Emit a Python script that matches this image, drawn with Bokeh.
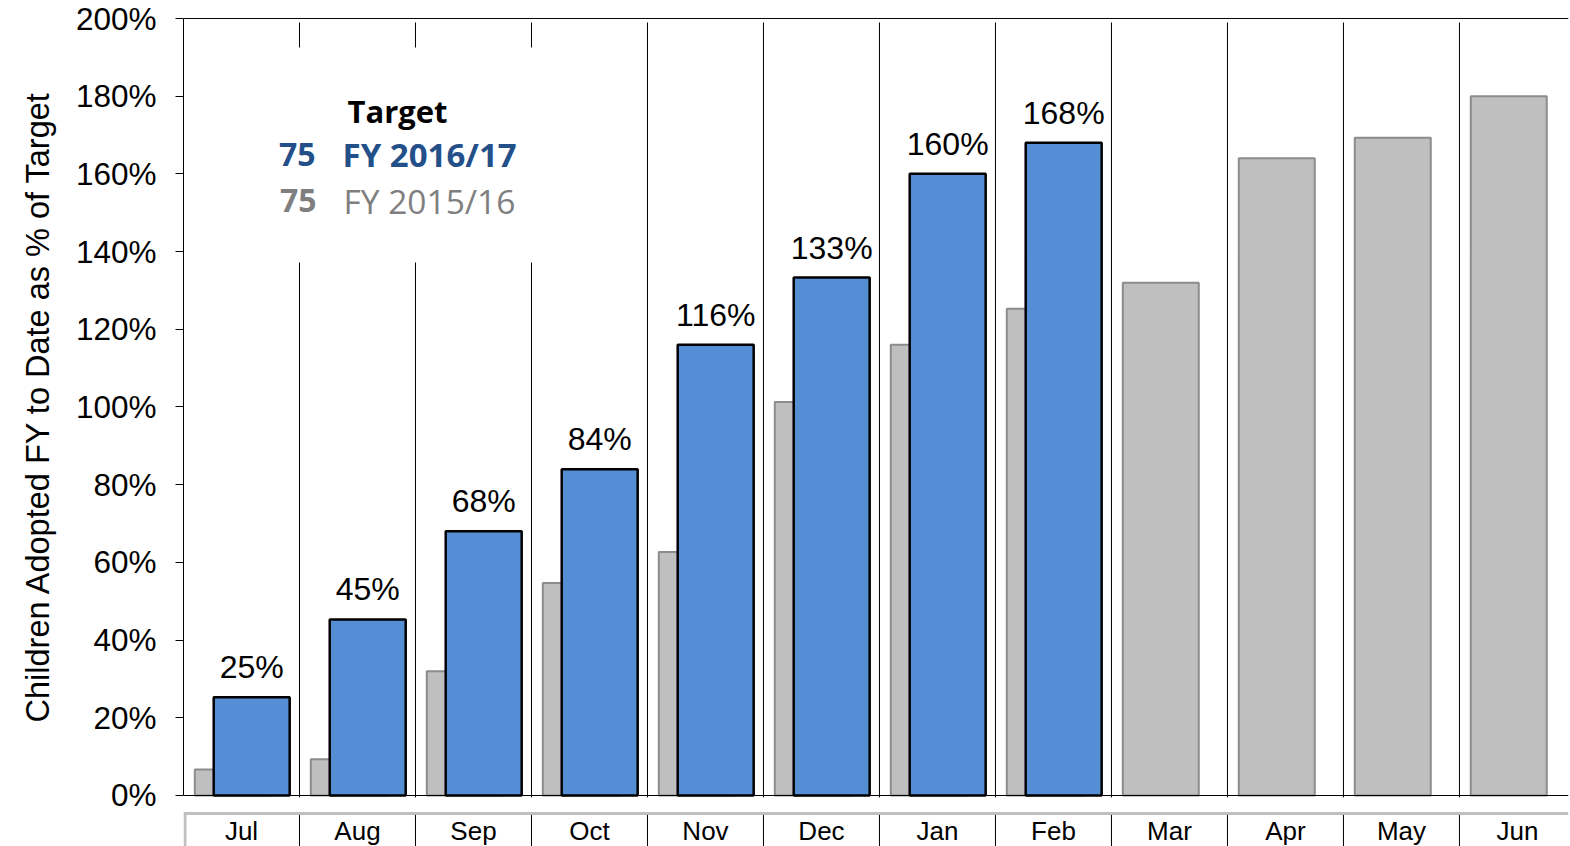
import numpy as np
from bokeh.plotting import figure
from bokeh.models import Range1d, FixedTicker, PrintfTickFormatter, Span, LinearAxis, Title
from bokeh.core.properties import value
from bokeh.embed import file_html
from bokeh.resources import INLINE

# ---- data ----
months = ["Jul", "Aug", "Sep", "Oct", "Nov", "Dec", "Jan", "Feb", "Mar", "Apr", "May", "Jun"]
fy1516_pct = [6.7, 9.3, 32.0, 54.7, 62.7, 101.3, 116.0, 125.3, 132.0, 164.0, 169.3, 180.0]
fy1617_pct = [25.3, 45.3, 68.0, 84.0, 116.0, 133.3, 160.0, 168.0]
y_ticks = [0, 20, 40, 60, 80, 100, 120, 140, 160, 180, 200]
legend_title = "Target"
targets = ["75", "75"]
series_names = ["FY 2016/17", "FY 2015/16"]
y_title = "Children Adopted FY to Date as % of Target"

FONT = "Liberation Sans"
LFONT = "Open Sans"
BLUE = "#558ED5"
GRAY = "#BFBFBF"
GRAY_LINE = "#8C8C8C"
BLUE_TXT = "#24508A"
GRAY_TXT = "#7F7F7F"

idx = np.arange(len(months))
X0, X1 = -0.5, 11.44
Y0, Y1 = -13.13, 200.25
p = figure(width=1570, height=846, output_backend="svg", toolbar_location=None,
           x_range=Range1d(X0, X1), y_range=Range1d(Y0, Y1),
           min_border_left=183, min_border_right=2, min_border_top=17, min_border_bottom=0,
           x_axis_location=None, y_axis_location="left")
p.outline_line_color = None
p.xgrid.visible = False
p.ygrid.visible = False
p.background_fill_color = "white"
p.border_fill_color = "white"

# y axis
ya = p.yaxis[0]
ya.ticker = FixedTicker(ticks=y_ticks)
ya.formatter = PrintfTickFormatter(format="%d%%")
ya.bounds = (0, 200)
ya.major_tick_out = 8
ya.major_tick_in = 0
ya.minor_tick_line_color = None
ya.axis_line_color = "black"
ya.major_tick_line_color = "black"
ya.major_label_text_font = FONT
ya.major_label_text_font_size = "31.5px"
ya.major_label_text_color = "black"
ya.major_label_standoff = 19

# y axis title (as a side title so it can sit centred on the 0-200% span)
p.add_layout(Title(text=y_title, align="left", offset=124, standoff=30, vertical_align="top",
                   text_font=FONT, text_font_size="32.5px", text_font_style="normal",
                   text_color="black"), "left")

# x axis fixed at 0
xa = LinearAxis(fixed_location=0, ticker=FixedTicker(ticks=list(idx)),
                major_label_overrides={int(i): m for i, m in zip(idx, months)})
xa.axis_line_color = "black"
xa.major_tick_line_color = None
xa.minor_tick_line_color = None
xa.major_label_text_font = FONT
xa.major_label_text_font_size = "26px"
xa.major_label_text_color = "black"
xa.major_label_standoff = 15
p.add_layout(xa, "below")

# top border
p.add_layout(Span(location=200, dimension="width", line_color="black", line_width=1))

# category separators
sep_x = idx[:-1] + 0.5
p.segment(x0=sep_x, y0=-0.5, x1=sep_x, y1=198.96, line_color="black", line_width=1)

# label box below axis
p.segment(x0=[X0], y0=[-4.64], x1=[X1], y1=[-4.64], line_color="#C0C0C0", line_width=3)
p.segment(x0=[-0.487], y0=[-4.64], x1=[-0.487], y1=[Y0], line_color="#C0C0C0", line_width=3)
p.segment(x0=sep_x, y0=-5.0, x1=sep_x, y1=Y0, line_color="black", line_width=1)

# legend white background
p.quad(left=[-0.44], right=[3.44], bottom=[137.19], top=[192.53], fill_color="white", line_color=None)

# bars
bw = 0.655
p.vbar(x=idx - 0.075, top=fy1516_pct, width=bw, bottom=0,
       fill_color=GRAY, line_color=GRAY_LINE, line_width=2)
bidx = idx[:len(fy1617_pct)]
p.vbar(x=bidx + 0.088, top=fy1617_pct, width=bw, bottom=0,
       fill_color=BLUE, line_color="black", line_width=2.5)

# data labels
p.text(x=bidx + 0.088, y=fy1617_pct, text=[f"{round(v)}%" for v in fy1617_pct],
       text_align="center", text_baseline="alphabetic", y_offset=-30,
       text_font=value(FONT), text_font_size="32px", text_color="black")

# legend text
p.text(x=[1.345], y=[176.2], text=[legend_title], text_align="center", text_baseline="alphabetic",
       text_font=value(LFONT), text_font_size="31px", text_font_style="bold", text_color="black")
p.text(x=[0.638, 0.647], y=[164.9, 153.1], text=targets, text_align="right", text_baseline="alphabetic",
       text_font=value(LFONT), text_font_size="32px", text_font_style="bold",
       text_color=[BLUE_TXT, GRAY_TXT])
p.text(x=[0.871], y=[164.9], text=[series_names[0]], text_align="left", text_baseline="alphabetic",
       text_font=value(LFONT), text_font_size="33px", text_font_style="bold", text_color=BLUE_TXT)
p.text(x=[0.879], y=[153.1], text=[series_names[1]], text_align="left", text_baseline="alphabetic",
       text_font=value(LFONT), text_font_size="33.5px", text_font_style="normal", text_color=GRAY_TXT)

open("out.html", "w").write(file_html(p, INLINE))
